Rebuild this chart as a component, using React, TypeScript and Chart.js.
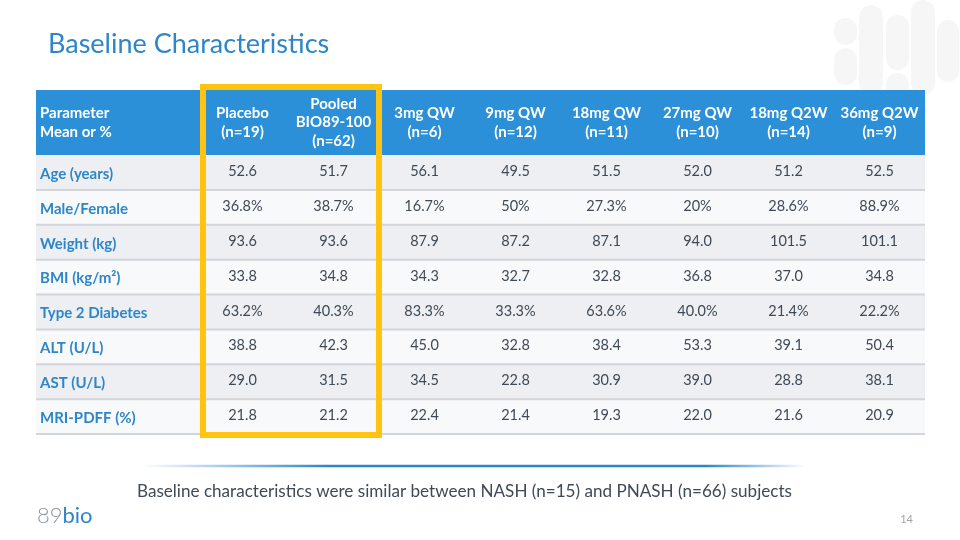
import React, { useEffect, useRef } from "react";
import { Chart, registerables } from "chart.js";

Chart.register(...registerables);

// ---------- data ----------
const slideTitle = "Baseline Characteristics";
const parameterHeader = ["Parameter", "Mean or %"];
const groupNames = ["Placebo", "Pooled BIO89-100", "3mg QW", "9mg QW", "18mg QW", "27mg QW", "18mg Q2W", "36mg Q2W"];
const groupHeaderLines = [["Placebo"], ["Pooled", "BIO89-100"], ["3mg QW"], ["9mg QW"], ["18mg QW"], ["27mg QW"], ["18mg Q2W"], ["36mg Q2W"]];
const groupN = ["(n=19)", "(n=62)", "(n=6)", "(n=12)", "(n=11)", "(n=10)", "(n=14)", "(n=9)"];
const parameters = ["Age (years)", "Male/Female", "Weight (kg)", "BMI (kg/m²)", "Type 2 Diabetes", "ALT (U/L)", "AST (U/L)", "MRI-PDFF (%)"];

const ageYears = ["52.6", "51.7", "56.1", "49.5", "51.5", "52.0", "51.2", "52.5"];
const maleFemale = ["36.8%", "38.7%", "16.7%", "50%", "27.3%", "20%", "28.6%", "88.9%"];
const weightKg = ["93.6", "93.6", "87.9", "87.2", "87.1", "94.0", "101.5", "101.1"];
const bmi = ["33.8", "34.8", "34.3", "32.7", "32.8", "36.8", "37.0", "34.8"];
const type2Diabetes = ["63.2%", "40.3%", "83.3%", "33.3%", "63.6%", "40.0%", "21.4%", "22.2%"];
const alt = ["38.8", "42.3", "45.0", "32.8", "38.4", "53.3", "39.1", "50.4"];
const ast = ["29.0", "31.5", "34.5", "22.8", "30.9", "39.0", "28.8", "38.1"];
const mriPdff = ["21.8", "21.2", "22.4", "21.4", "19.3", "22.0", "21.6", "20.9"];
const rowValues = [ageYears, maleFemale, weightKg, bmi, type2Diabetes, alt, ast, mriPdff];

const highlightedGroups = ["Placebo", "Pooled BIO89-100"];
const footnote = "Baseline characteristics were similar between NASH (n=15) and PNASH (n=66) subjects";
const logoNumber = "89";
const logoWord = "bio";
const pageNumber = "14";

// ---------- styles ----------
const FONT = "Lato, 'Open Sans', sans-serif";
const BLUE = "#2E86C8";
const HEADER_BLUE = "#2B90D7";
const TEXT = "#3F4A56";
const YELLOW = "#FFC310";
const TABLE_LEFT = 36;
const HEADER_TOP = 90;

const slidePlugin = {
  id: "slide",
  beforeDraw(chart: any) {
    const { ctx, chartArea, scales } = chart;
    const x = scales.x;
    const y = scales.y;
    ctx.save();
    ctx.fillStyle = "#ffffff";
    ctx.fillRect(0, 0, chart.width, chart.height);

    // decorative pills top-right
    ctx.fillStyle = "#F6F6F7";
    const pills = [
      [834, 18, 23, 27],
      [834, 48, 23, 37],
      [859, 5, 24, 90],
      [886, 15, 23, 55],
      [886, 73, 23, 30],
      [911, 0, 24, 95],
      [937, 20, 22, 62],
    ];
    pills.forEach(([px, py, pw, ph]) => {
      ctx.beginPath();
      ctx.roundRect(px, py, pw, ph, pw / 2);
      ctx.fill();
    });

    // title
    ctx.fillStyle = BLUE;
    ctx.font = `27px ${FONT}`;
    ctx.textAlign = "left";
    ctx.textBaseline = "alphabetic";
    ctx.fillText(slideTitle, 48, 53);

    // row backgrounds
    const band = y.getPixelForValue(1) - y.getPixelForValue(0);
    const right = chartArea.right;
    parameters.forEach((_, i) => {
      const cy = y.getPixelForValue(i);
      ctx.fillStyle = i % 2 === 0 ? "#EDEFF2" : "#F8F9FA";
      ctx.fillRect(TABLE_LEFT, cy - band / 2, right - TABLE_LEFT, band);
    });
    // row separators
    ctx.strokeStyle = "#D2D5D9";
    ctx.lineWidth = 2;
    parameters.forEach((_, i) => {
      const ly = y.getPixelForValue(i) + band / 2;
      ctx.beginPath();
      ctx.moveTo(TABLE_LEFT, ly);
      ctx.lineTo(right, ly);
      ctx.stroke();
    });

    // header
    ctx.fillStyle = HEADER_BLUE;
    ctx.fillRect(TABLE_LEFT, HEADER_TOP, right - TABLE_LEFT, chartArea.top - HEADER_TOP);
    const headerMid = (HEADER_TOP + chartArea.top) / 2;
    const lh = 18.8;
    ctx.fillStyle = "#ffffff";
    ctx.font = `bold 15px ${FONT}`;
    ctx.textBaseline = "middle";
    ctx.textAlign = "left";
    parameterHeader.forEach((t, k) => {
      ctx.fillText(t, 40, headerMid + (k - (parameterHeader.length - 1) / 2) * lh);
    });
    ctx.textAlign = "center";
    groupNames.forEach((_, c) => {
      const lines = [...groupHeaderLines[c], groupN[c]];
      const cx = x.getPixelForValue(c);
      lines.forEach((t, k) => {
        ctx.fillText(t, cx, headerMid + (k - (lines.length - 1) / 2) * lh);
      });
    });
    ctx.restore();
  },
  afterDatasetsDraw(chart: any) {
    const { ctx } = chart;
    ctx.save();
    ctx.fillStyle = TEXT;
    ctx.font = `14.5px ${FONT}`;
    ctx.textAlign = "center";
    ctx.textBaseline = "middle";
    chart.data.datasets.forEach((ds: any, di: number) => {
      const meta = chart.getDatasetMeta(di);
      meta.data.forEach((el: any, i: number) => {
        ctx.fillText(ds.data[i].v, el.x, el.y - 1);
      });
    });
    ctx.restore();
  },
  afterDraw(chart: any) {
    const { ctx, chartArea, scales } = chart;
    const x = scales.x;
    ctx.save();
    // highlight box
    const colBand = x.getPixelForValue(1) - x.getPixelForValue(0);
    const i0 = groupNames.indexOf(highlightedGroups[0]);
    const i1 = groupNames.indexOf(highlightedGroups[highlightedGroups.length - 1]);
    const bx1 = x.getPixelForValue(i0) - colBand / 2 + 6;
    const bx2 = x.getPixelForValue(i1) + colBand / 2;
    ctx.strokeStyle = YELLOW;
    ctx.lineWidth = 6;
    ctx.strokeRect(bx1, HEADER_TOP - 3, bx2 - bx1, chartArea.bottom + 1 - (HEADER_TOP - 3));

    // footer gradient line
    const g = ctx.createLinearGradient(142, 0, 805, 0);
    g.addColorStop(0, "rgba(46,134,200,0)");
    g.addColorStop(0.28, "rgba(46,134,200,1)");
    g.addColorStop(0.85, "rgba(46,134,200,1)");
    g.addColorStop(1, "rgba(46,134,200,0)");
    ctx.strokeStyle = g;
    ctx.lineWidth = 2.5;
    ctx.beginPath();
    ctx.moveTo(142, 466);
    ctx.lineTo(805, 466);
    ctx.stroke();

    // footnote
    ctx.fillStyle = TEXT;
    ctx.font = `17.1px ${FONT}`;
    ctx.textAlign = "center";
    ctx.textBaseline = "alphabetic";
    ctx.fillText(footnote, 464.5, 497);

    // logo
    ctx.textAlign = "left";
    ctx.font = `300 22px ${FONT}`;
    ctx.fillStyle = "#8E979E";
    ctx.fillText(logoNumber, 37, 523);
    const w = ctx.measureText(logoNumber).width;
    ctx.fillStyle = BLUE;
    ctx.font = `400 22px ${FONT}`;
    ctx.fillText(logoWord, 37 + w, 523);

    // page number
    ctx.fillStyle = "#A3A3A3";
    ctx.font = `11px ${FONT}`;
    ctx.textAlign = "right";
    ctx.fillText(pageNumber, 913, 523);
    ctx.restore();
  },
};

export default function App() {
  const ref = useRef<HTMLCanvasElement | null>(null);
  useEffect(() => {
    if (!ref.current) return;
    const cells: any[] = [];
    parameters.forEach((p, r) => {
      groupNames.forEach((gname, c) => {
        cells.push({ x: gname, y: p, v: rowValues[r][c] });
      });
    });
    const chart = new Chart(ref.current, {
      type: "line",
      data: {
        labels: groupNames,
        datasets: [
          {
            label: "cells",
            data: cells,
            showLine: false,
            pointRadius: 0,
            pointHoverRadius: 0,
          },
        ],
      },
      options: {
        responsive: false,
        animation: false,
        events: [],
        layout: { padding: { left: 40, right: 35, top: HEADER_TOP + 65, bottom: 106 } },
        plugins: { legend: { display: false }, tooltip: { enabled: false } },
        scales: {
          x: {
            type: "category",
            offset: true,
            display: false,
          },
          y: {
            type: "category",
            labels: parameters,
            offset: true,
            grid: { display: false, drawTicks: false },
            border: { display: false },
            ticks: {
              crossAlign: "far",
              padding: 0,
              labelOffset: 1.5,
              color: BLUE,
              font: { family: FONT, size: 15, weight: "bold" },
            },
            afterFit(scale: any) {
              scale.width = 157;
            },
          },
        },
      },
      plugins: [slidePlugin],
    });
    return () => chart.destroy();
  }, []);
  return (
    <div style={{ position: "fixed", left: 0, top: 0, width: 960, height: 540, background: "#fff" }}>
      <canvas ref={ref} width={960} height={540} style={{ width: 960, height: 540, display: "block" }} />
    </div>
  );
}
